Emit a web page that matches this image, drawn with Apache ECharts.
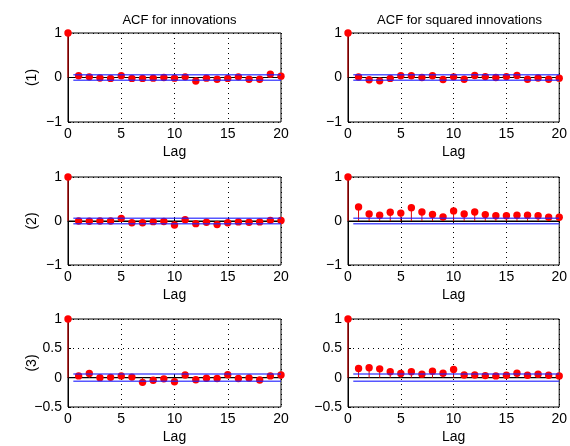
<!DOCTYPE html>
<html>
<head>
<meta charset="utf-8">
<script src="https://cdn.jsdelivr.net/npm/echarts@6/dist/echarts.min.js"></script>
<style>html,body{margin:0;padding:0;background:#fff}#c{width:570px;height:446px}</style>
</head>
<body>
<div id="c"></div>
<script>
const lags = [0,1,2,3,4,5,6,7,8,9,10,11,12,13,14,15,16,17,18,19,20];
const acfInnov1 = [1, 0.04, 0.015, -0.01, -0.02, 0.04, -0.02, -0.02, -0.015, 0, -0.015, 0.015, -0.08, -0.015, -0.04, -0.02, 0.015, -0.04, -0.04, 0.075, 0.03];
const acfSq1 = [1, 0.01, -0.05, -0.075, -0.02, 0.04, 0.04, 0, 0.04, -0.045, 0.015, -0.04, 0.045, 0.02, 0, 0.02, 0.045, -0.04, -0.01, -0.04, -0.015];
const acfInnov2 = [1, 0, -0.005, 0, 0, 0.06, -0.04, -0.04, -0.015, -0.01, -0.09, 0.03, -0.06, -0.03, -0.08, -0.04, -0.02, -0.03, -0.02, 0.015, 0.01];
const acfSq2 = [1, 0.32, 0.16, 0.13, 0.20, 0.18, 0.30, 0.205, 0.15, 0.09, 0.23, 0.16, 0.205, 0.145, 0.12, 0.12, 0.13, 0.13, 0.12, 0.085, 0.085];
const acfInnov3 = [1, 0.03, 0.07, 0, 0.005, 0.03, 0.01, -0.08, -0.045, -0.02, -0.07, 0.045, -0.035, -0.01, -0.015, 0.05, -0.015, -0.005, -0.04, 0.03, 0.045];
const acfSq3 = [1, 0.155, 0.17, 0.15, 0.10, 0.07, 0.10, 0.06, 0.11, 0.075, 0.14, 0.045, 0.045, 0.035, 0.03, 0.04, 0.075, 0.04, 0.06, 0.04, 0.03];
const bound = 0.063;
const boundStart = 0.5;
const titles = ['ACF for innovations', 'ACF for squared innovations'];
const rowNames = ['(1)', '(2)', '(3)'];
const xTicks = [0, 5, 10, 15, 20];
const yRanges = [[-1, 1, 1], [-1, 1, 1], [-0.5, 1, 0.5]];

const panels = [[acfInnov1, acfSq1], [acfInnov2, acfSq2], [acfInnov3, acfSq3]];
const FONT = "'Liberation Sans', Arial, Helvetica, sans-serif";
const FS = 14;
const colLeft = [68, 348];
const colWidth = 213;
const rowTop = [33, 177, 319];
const rowHeight = [89, 88, 88];

const grids = [], xAxes = [], yAxes = [], series = [], titleArr = [];
let gi = 0;
for (let r = 0; r < 3; r++) {
  for (let c = 0; c < 2; c++) {
    grids.push({left: colLeft[c], top: rowTop[r], width: colWidth, height: rowHeight[r], show: true, borderColor: '#000', borderWidth: 1, containLabel: false});
    xAxes.push({
      gridIndex: gi, type: 'value', min: xTicks[0], max: xTicks[xTicks.length-1], interval: 5,
      name: 'Lag', nameLocation: 'middle', nameGap: 23, nameMoveOverlap: false,
      nameTextStyle: {fontFamily: FONT, fontSize: FS, color: '#000'},
      axisLine: {show: true, lineStyle: {color: '#000', width: 1}},
      axisTick: {show: true, inside: true, length: 3, lineStyle: {color: '#000'}},
      axisLabel: {fontFamily: FONT, fontSize: FS, color: '#000', margin: 5},
      splitLine: {show: true, lineStyle: {color: '#000', width: 1, type: [1, 4]}}
    });
    const yr = yRanges[r];
    yAxes.push({
      gridIndex: gi, type: 'value', min: yr[0], max: yr[1], interval: yr[2],
      name: c === 0 ? rowNames[r] : '', nameLocation: 'middle', nameGap: 29, nameMoveOverlap: false,
      nameTextStyle: {fontFamily: FONT, fontSize: FS, color: '#000'},
      axisLine: {show: true, lineStyle: {color: '#000', width: 1}},
      axisTick: {show: true, inside: true, length: 3, lineStyle: {color: '#000'}},
      axisLabel: {fontFamily: FONT, fontSize: FS, color: '#000', margin: 6,
        formatter: v => String(v).replace('-', '\u2212')},
      splitLine: {show: true, lineStyle: {color: '#000', width: 1, type: [1, 4]}}
    });
    const vals = panels[r][c];
    series.push({type: 'line', xAxisIndex: gi, yAxisIndex: gi, data: [[xTicks[0], 0], [xTicks[xTicks.length-1], 0]],
      showSymbol: false, lineStyle: {color: '#000', width: 1.2}, z: 2, silent: true, animation: false});
    series.push({type: 'custom', xAxisIndex: gi, yAxisIndex: gi, z: 3, animation: false, clip: false,
      data: lags.map((l, i) => [l, vals[i]]),
      renderItem: function (params, api) {
        const x = api.value(0), y = api.value(1);
        const p0 = api.coord([x, 0]), p1 = api.coord([x, y]);
        return {type: 'group', children: [
          {type: 'line', shape: {x1: p0[0], y1: p0[1], x2: p1[0], y2: p1[1]}, style: {stroke: '#e00000', lineWidth: 1}},
          {type: 'circle', shape: {cx: p1[0], cy: p1[1], r: 3.7}, style: {fill: '#ff0000'}}
        ]};
      }
    });
    [bound, -bound].forEach(b => {
      series.push({type: 'line', xAxisIndex: gi, yAxisIndex: gi, data: [[boundStart, b], [xTicks[xTicks.length-1], b]],
        showSymbol: false, lineStyle: {color: 'rgba(30,30,255,0.75)', width: 1.5}, z: 5, silent: true, animation: false});
    });
    gi++;
  }
}
titles.forEach((t, c) => {
  titleArr.push({text: t, left: colLeft[c] + colWidth / 2, top: 9, textAlign: 'center',
    textStyle: {fontFamily: FONT, fontSize: 13, fontWeight: 'normal', color: '#000'}});
});

const chart = echarts.init(document.getElementById('c'), null, {renderer: 'canvas'});
chart.setOption({animation: false, title: titleArr, grid: grids, xAxis: xAxes, yAxis: yAxes, series: series});
</script>
</body>
</html>
